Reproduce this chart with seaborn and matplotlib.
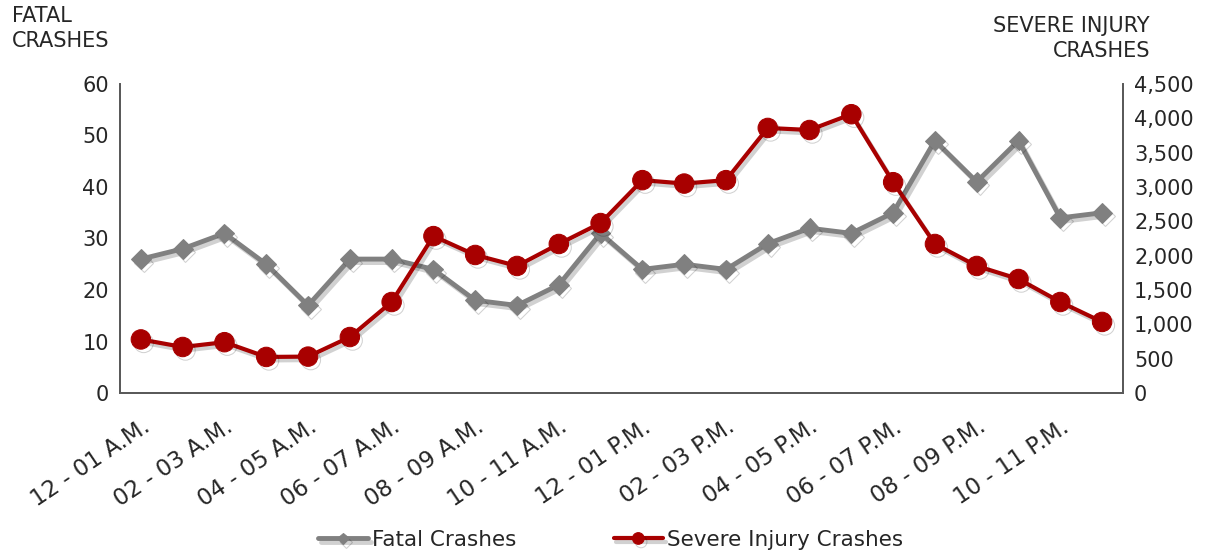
import numpy as np
import pandas as pd
import seaborn as sns
import matplotlib.pyplot as plt
import matplotlib.patheffects as pe

hours = ["12 - 01 A.M.", "01 - 02 A.M.", "02 - 03 A.M.", "03 - 04 A.M.",
         "04 - 05 A.M.", "05 - 06 A.M.", "06 - 07 A.M.", "07 - 08 A.M.",
         "08 - 09 A.M.", "09 - 10 A.M.", "10 - 11 A.M.", "11 - 12 A.M.",
         "12 - 01 P.M.", "01 - 02 P.M.", "02 - 03 P.M.", "03 - 04 P.M.",
         "04 - 05 P.M.", "05 - 06 P.M.", "06 - 07 P.M.", "07 - 08 P.M.",
         "08 - 09 P.M.", "09 - 10 P.M.", "10 - 11 P.M.", "11 - 12 P.M."]
fatal = [26, 28, 31, 25, 17, 26, 26, 24, 18, 17, 21, 31,
         24, 25, 24, 29, 32, 31, 35, 49, 41, 49, 34, 35]
severe = [780, 670, 740, 525, 530, 815, 1325, 2285, 2010, 1850, 2170, 2475,
          3100, 3050, 3100, 3860, 3830, 4060, 3070, 2170, 1850, 1660, 1325, 1035]

df = pd.DataFrame({"hour": hours, "x": np.arange(len(hours)),
                   "Fatal Crashes": fatal, "Severe Injury Crashes": severe})

sns.set_style("white")
plt.rcParams['font.family'] = ['DejaVu Sans']

gray = "#808080"
red = "#A80000"
txt = "#262626"
shadow = [pe.SimpleLineShadow(offset=(2, -2.5), alpha=0.18, shadow_color="black"), pe.Normal()]

fig = plt.figure(figsize=(12.22, 5.54), dpi=100)
ax = fig.add_axes([120 / 1222, 1 - 393 / 554, (1123 - 120) / 1222, (393 - 84) / 554])
ax2 = ax.twinx()

sns.lineplot(data=df, x="x", y="Fatal Crashes", ax=ax, color=gray, lw=3.5,
             marker="D", markersize=10, markeredgecolor=gray,
             path_effects=shadow, label="Fatal Crashes", legend=False)
sns.lineplot(data=df, x="x", y="Severe Injury Crashes", ax=ax2, color=red, lw=3,
             marker="o", markersize=14, markeredgecolor=red,
             path_effects=shadow, label="Severe Injury Crashes", legend=False)

ax.set_xlim(-0.5, len(hours) - 0.5)
ax.set_ylim(0, 60)
ax.set_yticks(range(0, 61, 10))
ax2.set_ylim(0, 4500)
ax2.set_yticks(range(0, 4501, 500))
ax2.set_yticklabels([f"{v:,}" for v in range(0, 4501, 500)])

ax.set_xticks(df["x"][::2])
ax.set_xticklabels(df["hour"][::2], rotation=34, ha="right", rotation_mode="anchor")

for a in (ax, ax2):
    a.set_xlabel("")
    a.set_ylabel("")
    a.spines["top"].set_visible(False)
    for s in ("left", "right", "bottom"):
        a.spines[s].set_color("#595959")
        a.spines[s].set_linewidth(1.3)
    a.tick_params(axis="both", labelsize=15, colors=txt, length=0, pad=8)
ax.tick_params(axis="x", labelsize=16.5, pad=16)

fig.text(12 / 1222, 1 - 6 / 554, "FATAL\nCRASHES", ha="left", va="top",
         fontsize=15, color=txt, linespacing=1.3)
fig.text(1150 / 1222, 1 - 16 / 554, "SEVERE INJURY\nCRASHES", ha="right", va="top",
         fontsize=15, color=txt, linespacing=1.3, multialignment="right")

h1, l1 = ax.get_legend_handles_labels()
h2, l2 = ax2.get_legend_handles_labels()
fig.legend(h1 + h2, l1 + l2, loc="center", bbox_to_anchor=(611 / 1222, 1 - 540 / 554),
           ncol=2, frameon=False, fontsize=15.5, handlelength=2.3, columnspacing=4.5,
           handletextpad=0.2, markerscale=0.6)

fig.savefig("out.png", dpi=100)
